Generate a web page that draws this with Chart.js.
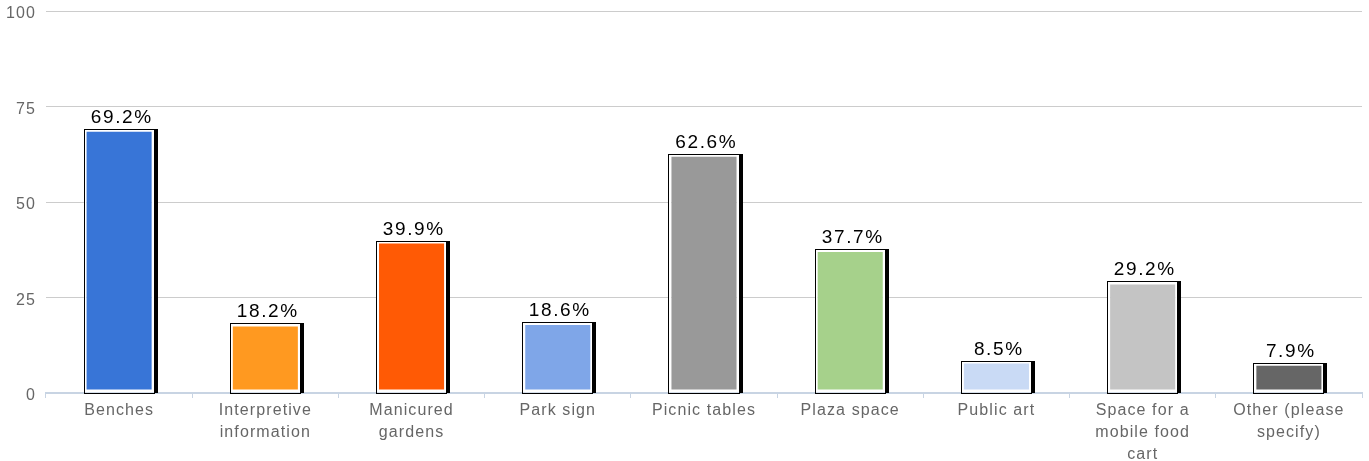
<!DOCTYPE html>
<html><head><meta charset="utf-8">
<script src="https://cdn.jsdelivr.net/npm/chart.js@4"></script>
<style>html,body{margin:0;padding:0;background:#fff}#wrap{width:1369px;height:461px}</style>
</head><body><div id="wrap"><canvas id="c"></canvas></div>
<script>
const categories = ["Benches", ["Interpretive","information"], ["Manicured","gardens"], "Park sign", "Picnic tables", "Plaza space", "Public art", ["Space for a","mobile food","cart"], ["Other (please","specify)"]];
const values = [69.2, 18.2, 39.9, 18.6, 62.6, 37.7, 8.5, 29.2, 7.9];
const barColors = ["#3875d7", "#ff9920", "#ff5a05", "#7fa6e8", "#999999", "#a6d18b", "#c9daf5", "#c4c4c4", "#666666"];
const yTicks = [0, 25, 50, 75, 100];

const FONT = "'Liberation Sans', Arial, sans-serif";
const LS = '1.1px';

const spacing = {
  id: 'spacing',
  beforeUpdate(chart) { chart.ctx.letterSpacing = LS; },
  beforeLayout(chart) { chart.ctx.letterSpacing = LS; },
  beforeDraw(chart) { chart.ctx.letterSpacing = LS; }
};

const barDeco = {
  id: 'barDeco',
  afterDatasetsDraw(chart) {
    const ctx = chart.ctx;
    const meta = chart.getDatasetMeta(0);
    ctx.save();
    meta.data.forEach((bar, i) => {
      const left = Math.round(bar.x - bar.width / 2);
      const right = Math.round(bar.x + bar.width / 2);
      const top = Math.round(bar.y);
      const base = Math.round(bar.base);
      ctx.fillStyle = '#000';
      ctx.fillRect(right, top, 3, base - top);
      ctx.strokeStyle = '#000';
      ctx.lineWidth = 1;
      ctx.strokeRect(left + 0.5, top + 0.5, right - left - 1, base - top);
      ctx.fillStyle = '#000';
      ctx.font = '19px ' + FONT;
      ctx.letterSpacing = '1.6px';
      ctx.textAlign = 'center';
      ctx.textBaseline = 'bottom';
      ctx.fillText(values[i].toFixed(1) + '%', (left + right + 3) / 2 + 0.8, top - 2);
    });
    ctx.restore();
  }
};

new Chart(document.getElementById('c'), {
  type: 'bar',
  data: {
    labels: categories,
    datasets: [{
      data: values,
      backgroundColor: barColors,
      borderColor: '#ffffff',
      borderWidth: 3,
      borderSkipped: false,
      categoryPercentage: 1,
      barPercentage: 0.486
    }]
  },
  options: {
    responsive: true,
    maintainAspectRatio: false,
    animation: false,
    layout: { padding: { top: 0, right: 7, left: 0, bottom: 0 } },
    plugins: { legend: { display: false }, tooltip: { enabled: false } },
    scales: {
      x: {
        afterFit(axis) { axis.height = 68; },
        grid: { display: true, drawOnChartArea: false, drawTicks: true, tickLength: 5, color: '#c8d4e3', offset: true },
        border: { display: true, color: '#c8d4e3', width: 2 },
        ticks: { color: '#666666', font: { family: FONT, size: 16, lineHeight: 1.375 }, maxRotation: 0, autoSkip: false, padding: 2 },
      },
      y: {
        min: 0, max: 100,
        afterBuildTicks(axis) { axis.ticks = yTicks.map(v => ({ value: v })); },
        afterFit(axis) { axis.width = 46; axis.paddingTop = 11; axis.paddingBottom = 0; },
        grid: { color: '#cccccc', drawTicks: false },
        border: { display: false },
        ticks: { color: '#666666', font: { family: FONT, size: 16 }, padding: 10, labelOffset: 3 }
      }
    }
  },
  plugins: [spacing, barDeco]
});
</script>
</body></html>
